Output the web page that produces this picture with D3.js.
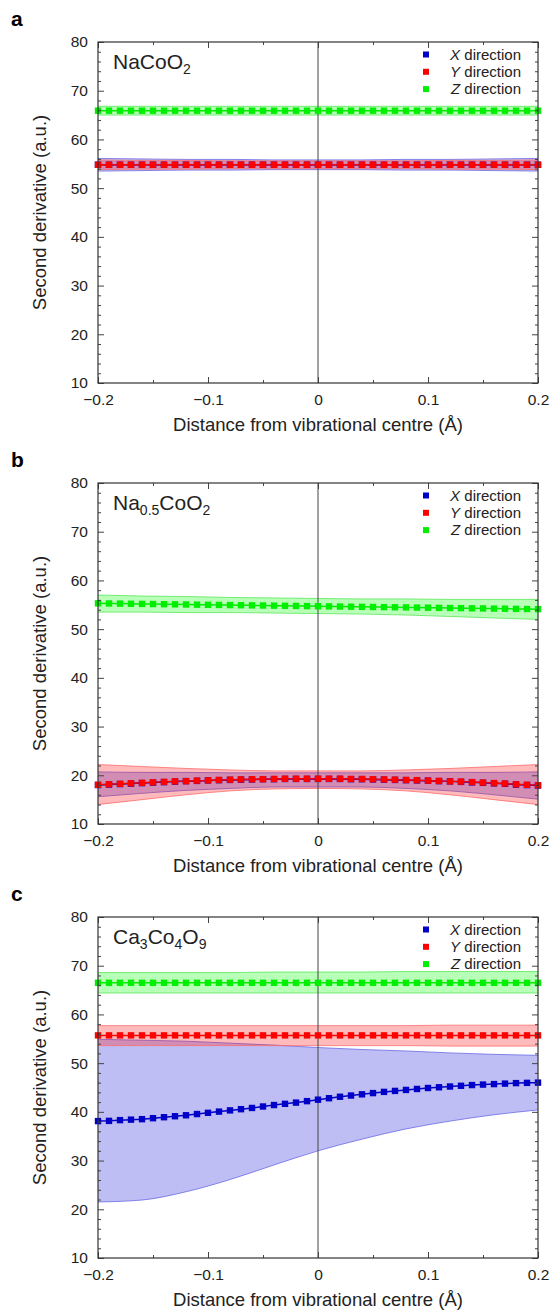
<!DOCTYPE html>
<html><head><meta charset="utf-8">
<script src="https://cdn.jsdelivr.net/npm/d3@7"></script>
<style>body{margin:0;background:#fff;} text{font-family:Arial,"Liberation Sans",sans-serif;fill:#222;}</style>
</head><body>
<script>
// ---------- data ----------
const xs = [-0.20,-0.19,-0.18,-0.17,-0.16,-0.15,-0.14,-0.13,-0.12,-0.11,-0.10,-0.09,-0.08,-0.07,-0.06,-0.05,-0.04,-0.03,-0.02,-0.01,0.00,0.01,0.02,0.03,0.04,0.05,0.06,0.07,0.08,0.09,0.10,0.11,0.12,0.13,0.14,0.15,0.16,0.17,0.18,0.19,0.20];
const bandXs = [-0.20,-0.16,-0.12,-0.08,-0.04,0.00,0.04,0.08,0.12,0.16,0.20];
const xTicks = [-0.2,-0.1,0,0.1,0.2];
const yTicks = [10,20,30,40,50,60,70,80];
const seriesNames = ["X","Y","Z"];

// panel a : NaCoO2
const aX = [54.8,54.8,54.8,54.8,54.8,54.8,54.8,54.8,54.8,54.8,54.8,54.8,54.8,54.8,54.8,54.8,54.8,54.8,54.8,54.8,54.8,54.8,54.8,54.8,54.8,54.8,54.8,54.8,54.8,54.8,54.8,54.8,54.8,54.8,54.8,54.8,54.8,54.8,54.8,54.8,54.8];
const aY = [54.8,54.8,54.8,54.8,54.8,54.8,54.8,54.8,54.8,54.8,54.8,54.8,54.8,54.8,54.8,54.8,54.8,54.8,54.8,54.8,54.8,54.8,54.8,54.8,54.8,54.8,54.8,54.8,54.8,54.8,54.8,54.8,54.8,54.8,54.8,54.8,54.8,54.8,54.8,54.8,54.8];
const aZ = [65.9,65.9,65.9,65.9,65.9,65.9,65.9,65.9,65.9,65.9,65.9,65.9,65.9,65.9,65.9,65.9,65.9,65.9,65.9,65.9,65.9,65.9,65.9,65.9,65.9,65.9,65.9,65.9,65.9,65.9,65.9,65.9,65.9,65.9,65.9,65.9,65.9,65.9,65.9,65.9,65.9];
const aXlo = [53.5,53.6,53.7,53.7,53.8,53.8,53.8,53.7,53.7,53.6,53.5];
const aXhi = [56.1,56.0,55.9,55.9,55.8,55.8,55.8,55.9,55.9,56.0,56.1];
const aYlo = [53.8,53.9,53.9,54.0,54.0,54.0,54.0,54.0,53.9,53.9,53.8];
const aYhi = [55.8,55.7,55.7,55.6,55.6,55.6,55.6,55.6,55.7,55.7,55.8];
const aZlo = [65.0,65.0,65.0,65.0,65.0,65.0,65.0,65.0,65.0,65.0,65.0];
const aZhi = [66.8,66.8,66.8,66.8,66.8,66.8,66.8,66.8,66.8,66.8,66.8];

// panel b : Na0.5CoO2
const bX = [18.0,18.1,18.2,18.3,18.4,18.5,18.6,18.7,18.8,18.85,18.95,19.0,19.05,19.1,19.15,19.2,19.2,19.25,19.25,19.25,19.25,19.25,19.25,19.2,19.2,19.15,19.1,19.05,19.0,18.95,18.9,18.8,18.75,18.65,18.55,18.45,18.35,18.25,18.1,18.0,17.9];
const bY = [18.05,18.15,18.25,18.35,18.45,18.55,18.65,18.75,18.8,18.9,18.95,19.05,19.1,19.15,19.2,19.2,19.25,19.3,19.3,19.3,19.3,19.3,19.3,19.25,19.25,19.2,19.15,19.1,19.05,19.0,18.9,18.85,18.75,18.7,18.6,18.5,18.4,18.3,18.15,18.05,17.95];
const bZ = [55.3,55.27,55.24,55.21,55.18,55.15,55.12,55.09,55.06,55.03,55.0,54.97,54.94,54.91,54.88,54.85,54.82,54.79,54.76,54.73,54.7,54.67,54.64,54.61,54.58,54.55,54.52,54.49,54.46,54.43,54.4,54.37,54.34,54.31,54.28,54.25,54.22,54.19,54.16,54.13,54.1];
const bXlo = [15.6,16.3,16.9,17.3,17.6,17.6,17.6,17.3,16.8,16.0,15.1];
const bXhi = [20.7,20.6,20.6,20.5,20.5,20.5,20.5,20.5,20.6,20.6,20.7];
const bYlo = [14.0,15.0,16.0,16.8,17.2,17.3,17.2,16.8,16.0,15.0,14.0];
const bYhi = [22.2,21.8,21.4,21.1,20.9,20.9,20.9,21.1,21.4,21.8,22.2];
const bZlo = [53.5,53.5,53.4,53.4,53.3,53.2,53.1,52.9,52.6,52.3,52.0];
const bZhi = [57.0,56.8,56.7,56.5,56.4,56.3,56.2,56.2,56.1,56.1,56.1];

// panel c : Ca3Co4O9
const cX = [38.1,38.15,38.3,38.4,38.5,38.7,38.9,39.1,39.3,39.55,39.8,40.05,40.3,40.55,40.8,41.1,41.4,41.65,41.9,42.2,42.5,42.8,43.1,43.35,43.6,43.85,44.1,44.3,44.5,44.7,44.9,45.05,45.2,45.35,45.5,45.6,45.7,45.8,45.9,45.95,46.0];
const cY = [55.7,55.7,55.7,55.7,55.7,55.7,55.7,55.7,55.7,55.7,55.7,55.7,55.7,55.7,55.7,55.7,55.7,55.7,55.7,55.7,55.7,55.7,55.7,55.7,55.7,55.7,55.7,55.7,55.7,55.7,55.7,55.7,55.7,55.7,55.7,55.7,55.7,55.7,55.7,55.7,55.7];
const cZ = [66.5,66.5,66.5,66.5,66.5,66.5,66.5,66.5,66.5,66.5,66.5,66.5,66.5,66.5,66.5,66.5,66.5,66.5,66.5,66.5,66.5,66.5,66.5,66.5,66.5,66.5,66.5,66.5,66.5,66.5,66.5,66.5,66.5,66.5,66.5,66.5,66.5,66.5,66.5,66.5,66.5];
const cXlo = [21.5,21.9,23.6,26.1,29.1,32.0,34.4,36.5,38.1,39.4,40.4];
const cXhi = [54.9,54.7,54.5,54.1,53.7,53.2,52.8,52.5,52.1,51.8,51.6];
const cYlo = [53.6,53.6,53.6,53.6,53.6,53.6,53.6,53.6,53.5,53.5,53.5];
const cYhi = [57.7,57.7,57.7,57.7,57.7,57.7,57.7,57.7,57.8,57.8,57.8];
const cZlo = [64.4,64.4,64.4,64.4,64.4,64.4,64.4,64.4,64.4,64.4,64.4];
const cZhi = [68.6,68.6,68.6,68.6,68.7,68.7,68.7,68.8,68.8,68.8,68.8];

// ---------- layout / style ----------
const W = 554, H = 1312;
const left = 98, right = 538, ph = 341;
const tops = [42, 483, 917];
const colors = {X:"#0000c8", Y:"#ff0000", Z:"#00ee00"};
const fills = {X:"rgba(40,40,220,0.30)", Y:"rgba(255,30,30,0.30)", Z:"rgba(20,255,20,0.30)"};
const edges = {X:"#6a6ae6", Y:"#ff6a6a", Z:"#5ae65a"};

const panels = [
  {letter:"a", title:[["NaCoO",0],["2",1]], center:{X:aX,Y:aY,Z:aZ}, lo:{X:aXlo,Y:aYlo,Z:aZlo}, hi:{X:aXhi,Y:aYhi,Z:aZhi}},
  {letter:"b", title:[["Na",0],["0.5",1],["CoO",0],["2",1]], center:{X:bX,Y:bY,Z:bZ}, lo:{X:bXlo,Y:bYlo,Z:bZlo}, hi:{X:bXhi,Y:bYhi,Z:bZhi}},
  {letter:"c", title:[["Ca",0],["3",1],["Co",0],["4",1],["O",0],["9",1]], center:{X:cX,Y:cY,Z:cZ}, lo:{X:cXlo,Y:cYlo,Z:cZlo}, hi:{X:cXhi,Y:cYhi,Z:cZhi}}
];

const svg = d3.select("body").append("svg").attr("width", W).attr("height", H);
const x = d3.scaleLinear().domain([-0.2, 0.2]).range([left, right]);
const fmt = d => d === 0 ? "0" : d3.format(".1f")(d);
const xMinor = [-0.15,-0.05,0.05,0.15];
const yMinor = [12,14,16,18,22,24,26,28,32,34,36,38,42,44,46,48,52,54,56,58,62,64,66,68,72,74,76,78];

panels.forEach((p, i) => {
  const top = tops[i];
  const y = d3.scaleLinear().domain([10, 80]).range([top + ph, top]);
  const g = svg.append("g");

  // panel letter
  svg.append("text").attr("x", 11).attr("y", top - 16).attr("font-size", 21).attr("font-weight", "bold").style("fill","#000").text(p.letter);

  const clipId = "clip" + i;
  svg.append("clipPath").attr("id", clipId).append("rect").attr("x", left).attr("y", top).attr("width", right - left).attr("height", ph);
  const plot = g.append("g").attr("clip-path", `url(#${clipId})`);

  // bands
  seriesNames.forEach(s => {
    const bd = bandXs.map((bx, k) => ({x: bx, lo: p.lo[s][k], hi: p.hi[s][k]}));
    plot.append("path").datum(bd)
      .attr("d", d3.area().curve(d3.curveMonotoneX).x(d => x(d.x)).y0(d => y(d.lo)).y1(d => y(d.hi)))
      .attr("fill", fills[s]).attr("stroke", "none");
    ["lo","hi"].forEach(k => {
      plot.append("path").datum(bd)
        .attr("d", d3.line().curve(d3.curveMonotoneX).x(d => x(d.x)).y(d => y(d[k])))
        .attr("fill", "none").attr("stroke", edges[s]).attr("stroke-width", 0.8);
    });
  });

  // zero line
  g.append("line").attr("x1", x(0)).attr("x2", x(0)).attr("y1", top).attr("y2", top + ph)
    .attr("stroke", "#444").attr("stroke-width", 1);

  // lines + markers
  seriesNames.forEach(s => {
    const pts = xs.map((xv, k) => ({x: xv, v: p.center[s][k]}));
    plot.append("path").datum(pts)
      .attr("d", d3.line().x(d => x(d.x)).y(d => y(d.v)))
      .attr("fill", "none").attr("stroke", colors[s]).attr("stroke-width", 1.5);
    g.selectAll(null).data(pts).enter().append("rect")
      .attr("x", d => x(d.x) - 3.2).attr("y", d => y(d.v) - 3.2)
      .attr("width", 6.4).attr("height", 6.4).attr("fill", colors[s]);
  });

  // axes
  const bottom = g.append("g").attr("transform", `translate(0,${top + ph})`)
    .call(d3.axisBottom(x).tickValues(xTicks).tickSizeInner(-6).tickSizeOuter(0).tickPadding(9).tickFormat(fmt));
  g.append("g").attr("transform", `translate(0,${top + ph})`)
    .call(d3.axisBottom(x).tickValues(xMinor).tickSizeInner(-3).tickSizeOuter(0).tickFormat(""));
  g.append("g").attr("transform", `translate(0,${top})`)
    .call(d3.axisTop(x).tickValues(xTicks).tickSizeInner(-6).tickSizeOuter(0).tickFormat(""));
  g.append("g").attr("transform", `translate(0,${top})`)
    .call(d3.axisTop(x).tickValues(xMinor).tickSizeInner(-3).tickSizeOuter(0).tickFormat(""));
  g.append("g").attr("transform", `translate(${left},0)`)
    .call(d3.axisLeft(y).tickValues(yTicks).tickSizeInner(-6).tickSizeOuter(0).tickPadding(10));
  g.append("g").attr("transform", `translate(${left},0)`)
    .call(d3.axisLeft(y).tickValues(yMinor).tickSizeInner(-3).tickSizeOuter(0).tickFormat(""));
  g.append("g").attr("transform", `translate(${right},0)`)
    .call(d3.axisRight(y).tickValues(yTicks).tickSizeInner(-6).tickSizeOuter(0).tickFormat(""));
  g.append("g").attr("transform", `translate(${right},0)`)
    .call(d3.axisRight(y).tickValues(yMinor).tickSizeInner(-3).tickSizeOuter(0).tickFormat(""));
  g.selectAll(".domain").remove();
  g.selectAll(".tick line").attr("stroke", "#444");
  g.selectAll(".tick text").attr("font-size", 15.5).attr("font-family", "Arial, 'Liberation Sans', sans-serif").style("fill", "#222");
  bottom.selectAll(".tick text").attr("dy", "0.85em");

  // frame
  g.append("rect").attr("x", left).attr("y", top).attr("width", right - left).attr("height", ph)
    .attr("fill", "none").attr("stroke", "#333").attr("stroke-width", 1.2);

  // axis titles
  g.append("text").attr("x", (left + right) / 2).attr("y", top + ph + 48).attr("text-anchor", "middle")
    .attr("font-size", 18.5).text("Distance from vibrational centre (Å)");
  g.append("text").attr("transform", `translate(46,${top + ph / 2}) rotate(-90)`).attr("text-anchor", "middle")
    .attr("font-size", 18.5).text("Second derivative (a.u.)");

  // compound title
  const t = g.append("text").attr("x", 113).attr("y", top + 27).attr("font-size", 21);
  let sub = false;
  p.title.forEach(([str, isSub]) => {
    const ts = t.append("tspan").text(str);
    if (isSub && !sub) { ts.attr("dy", 5).attr("font-size", 14); sub = true; }
    else if (isSub && sub) { ts.attr("font-size", 14); }
    else if (!isSub && sub) { ts.attr("dy", -5); sub = false; }
  });

  // legend
  seriesNames.forEach((s, k) => {
    const ly = top + 12.5 + k * 17.3;
    g.append("rect").attr("x", 423).attr("y", ly - 3).attr("width", 6).attr("height", 6).attr("fill", colors[s]);
    const lt = g.append("text").attr("x", 521).attr("y", ly + 5.3).attr("text-anchor", "end").attr("font-size", 15);
    lt.append("tspan").attr("font-style", "italic").text(s);
    lt.append("tspan").text(" direction");
  });
});
</script>
</body></html>
